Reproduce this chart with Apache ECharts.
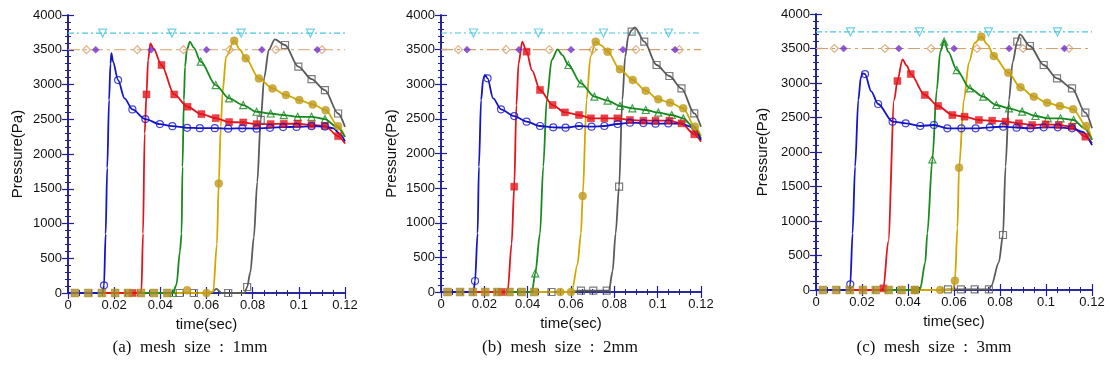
<!DOCTYPE html>
<html>
<head>
<meta charset="utf-8">
<script src="https://cdn.jsdelivr.net/npm/echarts@6/dist/echarts.min.js"></script>
<style>
  html, body { margin: 0; padding: 0; background: #fff; }
  #chart { width: 1114px; height: 372px; }
</style>
</head>
<body>
<div id="chart"></div>
<script>
// ---- data (time in sec, pressure in Pa) ----
const xTickLabels = ['0', '0.02', '0.04', '0.06', '0.08', '0.1', '0.12'];
const yTickLabels = ['0', '500', '1000', '1500', '2000', '2500', '3000', '3500', '4000'];
const captions = ['(a)  mesh  size  :  1mm', '(b)  mesh  size  :  2mm', '(c)  mesh  size  :  3mm'];

const cyanLevel = 3740;
const tanLevel = 3500;
const cyanMarkTimes = [0.015, 0.045, 0.075, 0.105];
const tanMarkTimes = [0.008, 0.03, 0.05, 0.07, 0.09, 0.11];
const purpleMarkTimes = [0.012, 0.036, 0.06, 0.084, 0.108];
const baseSquareTimes = [0.003, 0.0088, 0.0147, 0.0204, 0.026, 0.0316, 0.0372, 0.043];

// (a) 1mm
const a_blue = [[0,0],[0.015,0],[0.0156,110],[0.0163,850],[0.017,1800],[0.0178,2780],[0.0184,3300],[0.0188,3450],[0.0195,3330],[0.0217,3064],[0.0245,2800],[0.0279,2641],[0.0335,2502],[0.0398,2430],[0.0452,2401],[0.0516,2377],[0.0571,2372],[0.0636,2372],[0.0694,2365],[0.0755,2370],[0.0817,2365],[0.0875,2377],[0.0932,2387],[0.099,2390],[0.1055,2400],[0.1113,2395],[0.115,2370],[0.118,2280],[0.12,2180]];
const a_blue_m = [[0.0156,110],[0.0217,3064],[0.0279,2641],[0.0335,2502],[0.0398,2430],[0.0452,2401],[0.0516,2377],[0.0571,2372],[0.0636,2372],[0.0694,2365],[0.0755,2370],[0.0817,2365],[0.0875,2377],[0.0932,2387],[0.099,2390],[0.1055,2400],[0.1113,2395]];
const a_red = [[0,0],[0.03,0],[0.0318,20],[0.0325,855],[0.0332,2295],[0.034,2857],[0.0347,3350],[0.0357,3592],[0.037,3520],[0.0405,3280],[0.046,2857],[0.0518,2680],[0.0578,2574],[0.064,2516],[0.0698,2459],[0.0759,2454],[0.0817,2430],[0.0878,2430],[0.0935,2435],[0.0995,2435],[0.1055,2420],[0.1113,2405],[0.117,2257],[0.12,2150]];
const a_red_m = [[0.028,0],[0.034,2857],[0.0405,3280],[0.046,2857],[0.0518,2680],[0.0578,2574],[0.064,2516],[0.0698,2459],[0.0759,2454],[0.0817,2430],[0.0878,2430],[0.0935,2435],[0.0995,2435],[0.1055,2420],[0.1113,2405],[0.117,2257]];
const a_green = [[0,0],[0.0455,0],[0.047,120],[0.0485,600],[0.0492,855],[0.0496,1815],[0.0502,2776],[0.0507,3256],[0.0515,3500],[0.0528,3616],[0.0545,3530],[0.0575,3328],[0.064,2992],[0.0698,2800],[0.0759,2704],[0.0817,2608],[0.0878,2583],[0.0935,2560],[0.0995,2535],[0.1055,2535],[0.1113,2502],[0.1164,2391],[0.12,2247]];
const a_green_m = [[0.0455,0],[0.0575,3328],[0.064,2992],[0.0698,2800],[0.0759,2704],[0.0817,2608],[0.0878,2583],[0.0935,2560],[0.0995,2535],[0.1055,2535],[0.1113,2502]];
const a_gold = [[0,0],[0.06,0],[0.0629,20],[0.0645,700],[0.0653,1575],[0.0662,2400],[0.067,2900],[0.0685,3400],[0.072,3630],[0.0745,3500],[0.077,3376],[0.0827,3088],[0.0886,2944],[0.0944,2848],[0.1002,2776],[0.106,2713],[0.1116,2631],[0.117,2401],[0.12,2247]];
const a_gold_m = [[0.0516,40],[0.06,0],[0.0653,1575],[0.072,3630],[0.077,3376],[0.0827,3088],[0.0886,2944],[0.0944,2848],[0.1002,2776],[0.106,2713],[0.1116,2631],[0.117,2401]];
const a_grey = [[0,0],[0.062,0],[0.0643,60],[0.0665,0],[0.0765,0],[0.0776,86],[0.079,300],[0.0805,800],[0.082,1600],[0.0835,2490],[0.085,3100],[0.087,3500],[0.0896,3650],[0.094,3568],[0.0998,3256],[0.1055,3078],[0.1113,2920],[0.117,2583],[0.12,2391]];
const a_grey_m = [[0.0484,0],[0.0545,0],[0.0694,0],[0.0776,86],[0.0835,2490],[0.094,3568],[0.0998,3256],[0.1055,3078],[0.1113,2920],[0.117,2583]];

// (b) 2mm
const b_blue = [[0,0],[0.015,0],[0.0157,159],[0.0169,847],[0.0175,1810],[0.0185,2773],[0.0195,3080],[0.0203,3134],[0.0215,3085],[0.024,2800],[0.0277,2638],[0.0338,2541],[0.0395,2460],[0.0457,2397],[0.0518,2378],[0.0575,2373],[0.0637,2397],[0.0695,2387],[0.0754,2397],[0.0815,2426],[0.0872,2445],[0.0934,2440],[0.099,2430],[0.1049,2435],[0.111,2430],[0.115,2390],[0.118,2290],[0.12,2195]];
const b_blue_m = [[0.0157,159],[0.0215,3085],[0.0277,2638],[0.0338,2541],[0.0395,2460],[0.0457,2397],[0.0518,2378],[0.0575,2373],[0.0637,2397],[0.0695,2387],[0.0754,2397],[0.0815,2426],[0.0872,2445],[0.0934,2440],[0.099,2430],[0.1049,2435]];
const b_red = [[0,0],[0.03,0],[0.0308,20],[0.0326,700],[0.0338,1521],[0.0348,2700],[0.0358,3300],[0.0375,3615],[0.0395,3470],[0.042,3200],[0.0457,2917],[0.0515,2700],[0.0572,2594],[0.0637,2556],[0.0692,2508],[0.0754,2508],[0.0814,2508],[0.0872,2484],[0.0934,2474],[0.099,2474],[0.1054,2474],[0.111,2435],[0.1169,2277],[0.12,2171]];
const b_red_m = [[0.028,0],[0.0338,1521],[0.0395,3470],[0.0457,2917],[0.0515,2700],[0.0572,2594],[0.0637,2556],[0.0692,2508],[0.0754,2508],[0.0814,2508],[0.0872,2484],[0.0934,2474],[0.099,2474],[0.1054,2474],[0.111,2435],[0.1169,2277]];
const b_green = [[0,0],[0.042,0],[0.0435,270],[0.0457,847],[0.0472,1810],[0.0488,2773],[0.0511,3350],[0.0538,3504],[0.056,3420],[0.0588,3278],[0.0646,3013],[0.0708,2821],[0.0769,2763],[0.0826,2686],[0.0883,2652],[0.0945,2628],[0.1003,2590],[0.1065,2556],[0.1118,2508],[0.116,2400],[0.12,2219]];
const b_green_m = [[0.0435,270],[0.0588,3278],[0.0646,3013],[0.0708,2821],[0.0769,2763],[0.0826,2686],[0.0883,2652],[0.0945,2628],[0.1003,2590],[0.1065,2556],[0.1118,2508]];
const b_gold = [[0,0],[0.0595,0],[0.0605,30],[0.063,400],[0.0646,847],[0.0654,1386],[0.0672,2773],[0.069,3400],[0.0714,3615],[0.074,3560],[0.0769,3470],[0.0826,3215],[0.0885,3061],[0.0945,2907],[0.1003,2782],[0.1057,2734],[0.1118,2652],[0.1172,2387],[0.12,2253]];
const b_gold_m = [[0.055,0],[0.06,0],[0.0654,1386],[0.0714,3615],[0.0769,3470],[0.0826,3215],[0.0885,3061],[0.0945,2907],[0.1003,2782],[0.1057,2734],[0.1118,2652],[0.1172,2387]];
const b_grey = [[0,0],[0.06,0],[0.0637,20],[0.0775,20],[0.0792,300],[0.0806,847],[0.0822,1521],[0.0837,2773],[0.085,3400],[0.0865,3700],[0.088,3780],[0.0895,3822],[0.0938,3615],[0.0995,3278],[0.1054,3119],[0.111,2941],[0.1169,2580],[0.12,2387]];
const b_grey_m = [[0.051,0],[0.0646,20],[0.0703,20],[0.0765,20],[0.0822,1521],[0.088,3760],[0.0938,3615],[0.0995,3278],[0.1054,3119],[0.111,2941],[0.1169,2580]];

// (c) 3mm
const c_blue = [[0,0],[0.0145,0],[0.0149,82],[0.0159,821],[0.017,1787],[0.0184,2754],[0.0195,3080],[0.0202,3140],[0.0213,3130],[0.024,2880],[0.027,2696],[0.0333,2440],[0.039,2416],[0.0453,2377],[0.0513,2391],[0.0571,2343],[0.0632,2343],[0.0694,2343],[0.0756,2358],[0.0814,2367],[0.0872,2353],[0.0932,2343],[0.099,2358],[0.1051,2358],[0.1113,2343],[0.116,2290],[0.12,2101]];
const c_blue_m = [[0.0149,82],[0.0213,3130],[0.027,2696],[0.0333,2440],[0.039,2416],[0.0453,2377],[0.0513,2391],[0.0571,2343],[0.0632,2343],[0.0694,2343],[0.0756,2358],[0.0814,2367],[0.0872,2353],[0.0932,2343],[0.099,2358],[0.1051,2358],[0.1113,2343]];
const c_red = [[0,0],[0.0285,0],[0.0293,24],[0.0314,700],[0.034,2754],[0.0354,3029],[0.0376,3343],[0.0395,3250],[0.0412,3130],[0.0473,2826],[0.0531,2667],[0.0593,2536],[0.0646,2512],[0.0708,2464],[0.0766,2454],[0.0824,2440],[0.0882,2416],[0.094,2391],[0.0998,2401],[0.1055,2391],[0.1113,2367],[0.1171,2222],[0.12,2126]];
const c_red_m = [[0.0293,24],[0.0354,3029],[0.0412,3130],[0.0473,2826],[0.0531,2667],[0.0593,2536],[0.0646,2512],[0.0708,2464],[0.0766,2454],[0.0824,2440],[0.0882,2416],[0.094,2391],[0.0998,2401],[0.1055,2391],[0.1113,2367],[0.1171,2222]];
const c_green = [[0,0],[0.0445,0],[0.0453,20],[0.0475,400],[0.0484,821],[0.0506,1894],[0.0525,2900],[0.054,3450],[0.0557,3614],[0.0575,3450],[0.0612,3188],[0.0669,2923],[0.0727,2802],[0.0784,2681],[0.0839,2633],[0.0896,2585],[0.0954,2522],[0.1008,2488],[0.1063,2488],[0.112,2464],[0.1165,2350],[0.12,2174]];
const c_green_m = [[0.0506,1894],[0.0557,3600],[0.0612,3188],[0.0669,2923],[0.0727,2802],[0.0784,2681],[0.0839,2633],[0.0896,2585],[0.0954,2522],[0.1008,2488],[0.1063,2488],[0.112,2464]];
const c_gold = [[0,0],[0.0595,0],[0.0604,135],[0.0615,900],[0.0622,1773],[0.0643,2754],[0.0665,3300],[0.069,3580],[0.0719,3671],[0.0745,3560],[0.0773,3391],[0.0836,3150],[0.0889,2937],[0.0947,2802],[0.1005,2715],[0.106,2667],[0.1118,2618],[0.1175,2377],[0.12,2174]];
const c_gold_m = [[0.043,0],[0.054,0],[0.0604,135],[0.0622,1773],[0.0719,3671],[0.0773,3391],[0.0836,3150],[0.0889,2937],[0.0947,2802],[0.1005,2715],[0.106,2667],[0.1118,2618],[0.1175,2377]];
const c_grey = [[0,0],[0.0555,0],[0.0574,10],[0.0752,10],[0.0762,60],[0.0795,400],[0.0813,797],[0.0824,1787],[0.0839,2754],[0.0855,3300],[0.0875,3600],[0.0886,3705],[0.093,3536],[0.099,3261],[0.1048,3068],[0.1113,2923],[0.1171,2570],[0.12,2343]];
const c_grey_m = [[0.0574,10],[0.063,10],[0.069,10],[0.0752,10],[0.0813,797],[0.0875,3600],[0.093,3536],[0.099,3261],[0.1048,3068],[0.1113,2923],[0.1171,2570]];

// ---- layout / style ----
const navy = '#1e1e98';
const col = { blue: '#1414c8', red: '#e4141c', green: '#178a1e', gold: '#d2a800', goldMark: '#bf9a1c', grey: '#5a5a5a', cyan: '#46c4dc', tan: '#d8a06c', purple: '#7430d0', olive: '#a98b22' };
const grids = [
  { left: 68, top: 15, width: 277, height: 278 },
  { left: 441, top: 15, width: 260, height: 277 },
  { left: 816, top: 14, width: 276, height: 276 }
];
const yNameGaps = [43, 42, 46];
const captionX = [190, 560, 934];

const panels = [
  { blue: a_blue, blueM: a_blue_m, red: a_red, redM: a_red_m, green: a_green, greenM: a_green_m, gold: a_gold, goldM: a_gold_m, grey: a_grey, greyM: a_grey_m },
  { blue: b_blue, blueM: b_blue_m, red: b_red, redM: b_red_m, green: b_green, greenM: b_green_m, gold: b_gold, goldM: b_gold_m, grey: b_grey, greyM: b_grey_m },
  { blue: c_blue, blueM: c_blue_m, red: c_red, redM: c_red_m, green: c_green, greenM: c_green_m, gold: c_gold, goldM: c_gold_m, grey: c_grey, greyM: c_grey_m }
];

const labelFont = { color: '#111', fontSize: 13, fontFamily: 'Liberation Sans, Arial, sans-serif' };

function xAxes(i) {
  const base = {
    gridIndex: i, type: 'value', min: 0, max: 0.12, interval: 0.02,
    axisLine: { show: true, lineStyle: { color: navy, width: 1.6 } },
    axisTick: { show: true, inside: true, length: 6, lineStyle: { color: navy, width: 1.2 } },
    minorTick: { show: true, splitNumber: 4, length: 3, lineStyle: { color: navy, width: 1 } },
    splitLine: { show: false }
  };
  return [
    Object.assign({}, base, {
      position: 'bottom',
      name: 'time(sec)', nameLocation: 'middle', nameGap: 17,
      nameTextStyle: { color: '#111', fontSize: 15, fontFamily: 'Liberation Sans, Arial, sans-serif' },
      axisLabel: Object.assign({ margin: 6, formatter: (v, idx) => xTickLabels[idx] }, labelFont)
    }),
    Object.assign({}, base, { position: 'top', axisLabel: { show: false } })
  ];
}

function yAxes(i) {
  const base = {
    gridIndex: i, type: 'value', min: 0, max: 4000, interval: 500,
    axisLine: { show: true, lineStyle: { color: navy, width: 1.6 } },
    axisTick: { show: true, inside: true, length: 6, lineStyle: { color: navy, width: 1.2 } },
    minorTick: { show: true, splitNumber: 5, length: 3, lineStyle: { color: navy, width: 1 } },
    splitLine: { show: false }
  };
  return [
    Object.assign({}, base, {
      position: 'left',
      name: 'Pressure(Pa)', nameLocation: 'middle', nameGap: yNameGaps[i], nameRotate: 90,
      nameTextStyle: { color: '#111', fontSize: 15, fontFamily: 'Liberation Sans, Arial, sans-serif' },
      axisLabel: Object.assign({ margin: 6, formatter: (v, idx) => yTickLabels[idx] }, labelFont)
    }),
    Object.assign({}, base, { position: 'right', axisLabel: { show: false } })
  ];
}

function curve(i, data, color) {
  return {
    type: 'line', xAxisIndex: 2 * i, yAxisIndex: 2 * i, data: data,
    smooth: 0.3, smoothMonotone: 'x', symbol: 'none',
    lineStyle: { color: color, width: 1.8 }, z: 3, silent: true
  };
}

function marks(i, data, symbol, color, filled, size, rotate) {
  return {
    type: 'scatter', xAxisIndex: 2 * i, yAxisIndex: 2 * i, data: data,
    symbol: symbol, symbolSize: size, symbolRotate: rotate || 0,
    itemStyle: filled
      ? { color: color, borderColor: color, borderWidth: 0.5 }
      : { color: 'rgba(255,255,255,0)', borderColor: color, borderWidth: 1.2 },
    z: 4, silent: true
  };
}

function refLine(i, level, color, dash) {
  return {
    type: 'line', xAxisIndex: 2 * i, yAxisIndex: 2 * i,
    data: [[0, level], [0.12, level]], symbol: 'none',
    lineStyle: { color: color, width: 1.2, type: dash }, z: 2, silent: true
  };
}

const series = [];
panels.forEach((p, i) => {
  series.push(refLine(i, cyanLevel, col.cyan, [6, 3, 2, 3]));
  series.push(refLine(i, tanLevel, col.tan, [12, 4, 3, 4]));
  series.push(marks(i, cyanMarkTimes.map(t => [t, cyanLevel]), 'triangle', col.cyan, false, 8, 180));
  series.push(marks(i, tanMarkTimes.map(t => [t, tanLevel]), 'diamond', col.tan, false, 8));
  series.push(marks(i, purpleMarkTimes.map(t => [t, tanLevel]), 'diamond', col.purple, true, 7));

  series.push(curve(i, p.grey, col.grey));
  series.push(curve(i, p.gold, col.gold));
  series.push(curve(i, p.green, col.green));
  series.push(curve(i, p.red, col.red));
  series.push(curve(i, p.blue, col.blue));

  series.push(marks(i, p.greyM, 'rect', col.grey, false, 7));
  series.push(marks(i, p.goldM, 'circle', col.goldMark, true, 8));
  series.push(marks(i, p.greenM, 'triangle', col.green, false, 7));
  series.push(marks(i, p.redM, 'rect', col.red, true, 7));
  series.push(marks(i, p.blueM, 'circle', col.blue, false, 7));
  series.push(marks(i, baseSquareTimes.map(t => [t, 0]), 'rect', col.olive, true, 8));
});

const chart = echarts.init(document.getElementById('chart'), null, { renderer: 'canvas' });
chart.setOption({
  animation: false,
  backgroundColor: '#fff',
  grid: grids,
  xAxis: [].concat(xAxes(0), xAxes(1), xAxes(2)),
  yAxis: [].concat(yAxes(0), yAxes(1), yAxes(2)),
  series: series,
  graphic: captions.map((t, i) => ({
    type: 'text', x: captionX[i], y: 348,
    style: {
      text: t, fill: '#111', fontSize: 17,
      fontFamily: 'Liberation Serif, Times New Roman, serif',
      textAlign: 'center', textVerticalAlign: 'middle'
    }
  }))
});
</script>
</body>
</html>
